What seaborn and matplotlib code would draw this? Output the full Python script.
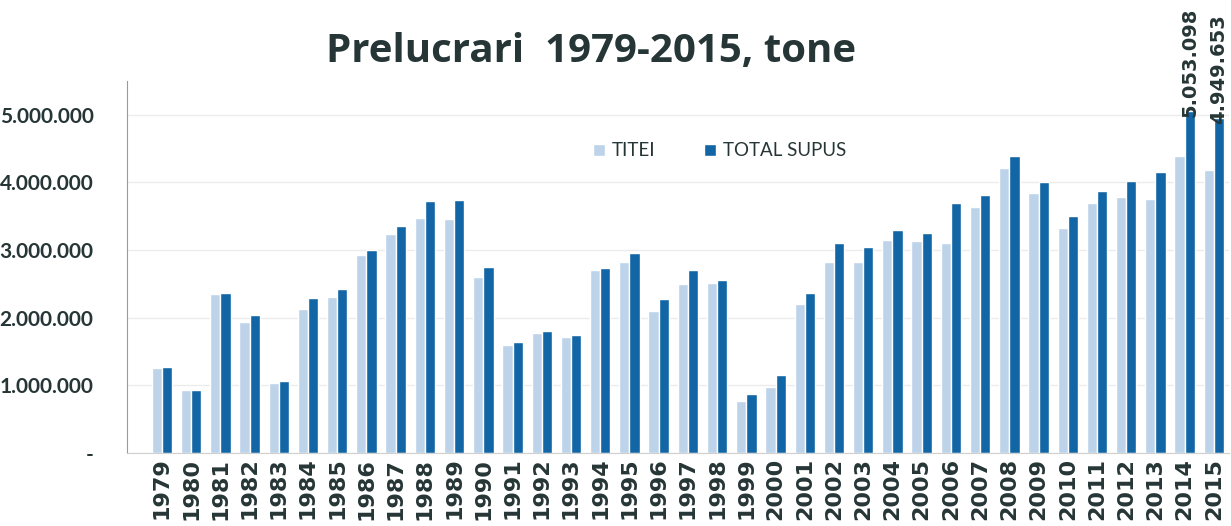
import matplotlib
matplotlib.use("Agg")
import matplotlib.pyplot as plt
from matplotlib.ticker import FuncFormatter, MultipleLocator
import numpy as np
import pandas as pd
import seaborn as sns

# ---------------------------------------------------------------------------
# Data (tone)
# ---------------------------------------------------------------------------
years = [str(y) for y in range(1979, 2016)]

titei = [
    1260000, 930000, 2350000, 1940000, 1040000, 2130000, 2310000, 2930000,
    3240000, 3480000, 3460000, 2600000, 1600000, 1780000, 1720000, 2710000,
    2820000, 2100000, 2500000, 2510000, 760000, 980000, 2200000, 2820000,
    2820000, 3150000, 3140000, 3110000, 3640000, 4210000, 3850000, 3330000,
    3690000, 3790000, 3750000, 4390000, 4190000,
]

total_supus = [
    1270000, 930000, 2370000, 2040000, 1070000, 2290000, 2420000, 3000000,
    3360000, 3730000, 3740000, 2750000, 1640000, 1800000, 1750000, 2740000,
    2960000, 2280000, 2710000, 2560000, 870000, 1150000, 2370000, 3110000,
    3040000, 3290000, 3250000, 3690000, 3820000, 4390000, 4010000, 3500000,
    3880000, 4020000, 4160000, 5053098, 4949653,
]

series_names = ["TITEI", "TOTAL SUPUS"]
labelled_years = ["2014", "2015"]

TITLE = "Prelucrari  1979-2015, tone"
TEXT_COLOR = "#263535"
COLORS = ["#bcd3e9", "#1266a6"]


def thousands_dot(v, _pos=None):
    if v == 0:
        return "-"
    return f"{int(round(v)):,}".replace(",", ".")


df = pd.DataFrame({
    "year": years * 2,
    "value": titei + total_supus,
    "series": [series_names[0]] * len(years) + [series_names[1]] * len(years),
})

sns.set_style("white")
plt.rcParams["font.family"] = ["Lato", "DejaVu Sans"]

fig = plt.figure(figsize=(12.31, 5.26), dpi=100)
ax = fig.add_axes([0.103, 0.139, 0.895, 0.707])

sns.barplot(
    data=df, x="year", y="value", hue="series",
    palette=COLORS, width=0.7, saturation=1, ax=ax,
)

ax.set_ylim(0, 5.5e6)
ax.set_xlim(-1.2, len(years) - 0.5)
ax.yaxis.set_major_locator(MultipleLocator(1_000_000))
ax.yaxis.set_major_formatter(FuncFormatter(thousands_dot))
ax.grid(axis="y", color="#ececec", linewidth=1)
ax.set_axisbelow(True)

ax.set_xlabel("")
ax.set_ylabel("")
ax.tick_params(axis="both", length=0)
ax.tick_params(axis="y", pad=24)
for lbl in ax.get_yticklabels():
    lbl.set_fontsize(15)
    lbl.set_fontweight("bold")
    lbl.set_color(TEXT_COLOR)
for lbl in ax.get_xticklabels():
    lbl.set_rotation(90)
    lbl.set_fontsize(16)
    lbl.set_fontfamily("DejaVu Sans")
    lbl.set_fontweight("bold")
    lbl.set_color(TEXT_COLOR)

for side in ["top", "right"]:
    ax.spines[side].set_visible(False)
ax.spines["left"].set_color("#9a9a9a")
ax.spines["bottom"].set_color("#d0d0d0")

# value labels for the last two TOTAL SUPUS bars
offset = 0.7 / 4
for yr in labelled_years:
    i = years.index(yr)
    v = total_supus[i]
    ax.annotate(thousands_dot(v), xy=(i + offset, v), xytext=(0, -4),
                textcoords="offset points", rotation=90, ha="center",
                va="bottom", fontsize=14, fontweight="bold", color=TEXT_COLOR,
                fontfamily="DejaVu Sans", annotation_clip=False)

handles, labels = ax.get_legend_handles_labels()
ax.legend(
    handles, labels, loc="center left", bbox_to_anchor=(0.482, 0.713),
    bbox_transform=fig.transFigure, ncol=2, frameon=False,
    borderaxespad=0, borderpad=0,
    fontsize=13.5, handlelength=0.6, handleheight=0.6, handletextpad=0.4,
    columnspacing=2.6, labelcolor=TEXT_COLOR,
)

fig.text(0.48, 0.903, TITLE, ha="center", va="center", fontsize=29,
         fontweight="bold", color=TEXT_COLOR, fontfamily="Open Sans")

fig.savefig("out.png", dpi=100)
